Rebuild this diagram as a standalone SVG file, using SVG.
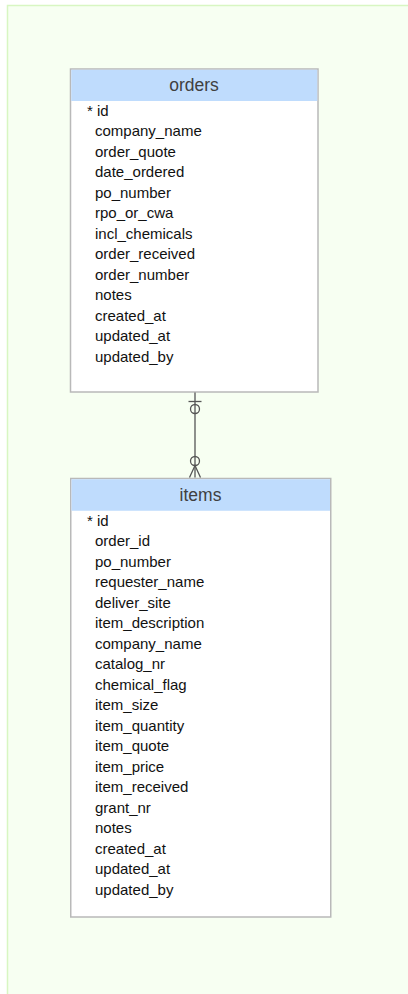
<svg xmlns="http://www.w3.org/2000/svg" width="408" height="994" viewBox="0 0 408 994">
<style>
.bg{fill:#f7fff2;stroke:#d8f6c2;stroke-width:1.5}
.box{fill:#ffffff;stroke:#b9b9b9;stroke-width:1.5}
.hdr{fill:#bfdcfd}
.title{font-family:"Liberation Sans",Arial,sans-serif;font-size:17.5px;fill:#404040;text-anchor:middle}
.f{font-family:"Liberation Sans",Arial,sans-serif;font-size:15px;fill:#111111}
.c{fill:none;stroke:#555555;stroke-width:1.3}
</style>
<rect class="bg" x="7.5" y="5.5" width="420" height="1010"/>
<g id="orders">
<rect class="box" x="70.5" y="69" width="247.5" height="323"/>
<rect class="hdr" x="71.25" y="69.75" width="246" height="31.25"/>
<text class="title" x="194" y="91">orders</text>
<text class="f" x="87" y="115.5">* id</text>
<text class="f" x="95" y="136">company_name</text>
<text class="f" x="95" y="156.5">order_quote</text>
<text class="f" x="95" y="177">date_ordered</text>
<text class="f" x="95" y="197.5">po_number</text>
<text class="f" x="95" y="218">rpo_or_cwa</text>
<text class="f" x="95" y="238.5">incl_chemicals</text>
<text class="f" x="95" y="259">order_received</text>
<text class="f" x="95" y="279.5">order_number</text>
<text class="f" x="95" y="300">notes</text>
<text class="f" x="95" y="320.5">created_at</text>
<text class="f" x="95" y="341">updated_at</text>
<text class="f" x="95" y="361.5">updated_by</text>
</g>
<g id="items">
<rect class="box" x="70.75" y="478.5" width="260" height="438.5"/>
<rect class="hdr" x="71.5" y="479.25" width="258.5" height="31.5"/>
<text class="title" x="200.5" y="501">items</text>
<text class="f" x="87" y="525.5">* id</text>
<text class="f" x="95" y="546">order_id</text>
<text class="f" x="95" y="566.5">po_number</text>
<text class="f" x="95" y="587">requester_name</text>
<text class="f" x="95" y="607.5">deliver_site</text>
<text class="f" x="95" y="628">item_description</text>
<text class="f" x="95" y="648.5">company_name</text>
<text class="f" x="95" y="669">catalog_nr</text>
<text class="f" x="95" y="689.5">chemical_flag</text>
<text class="f" x="95" y="710">item_size</text>
<text class="f" x="95" y="730.5">item_quantity</text>
<text class="f" x="95" y="751">item_quote</text>
<text class="f" x="95" y="771.5">item_price</text>
<text class="f" x="95" y="792">item_received</text>
<text class="f" x="95" y="812.5">grant_nr</text>
<text class="f" x="95" y="833">notes</text>
<text class="f" x="95" y="853.5">created_at</text>
<text class="f" x="95" y="874">updated_at</text>
<text class="f" x="95" y="894.5">updated_by</text>
</g>
<g id="connectors">
<line class="c" x1="195" y1="392.5" x2="195" y2="477.5"/>
<line class="c" x1="188.5" y1="401.5" x2="201.5" y2="401.5"/>
<circle class="c" cx="195" cy="409" r="4.5" fill="#f7fff2"/>
<circle class="c" cx="195" cy="461" r="4.5" fill="#f7fff2"/>
<polyline class="c" points="189.5,477.5 195,465.5 200.5,477.5"/>
</g>
</svg>
